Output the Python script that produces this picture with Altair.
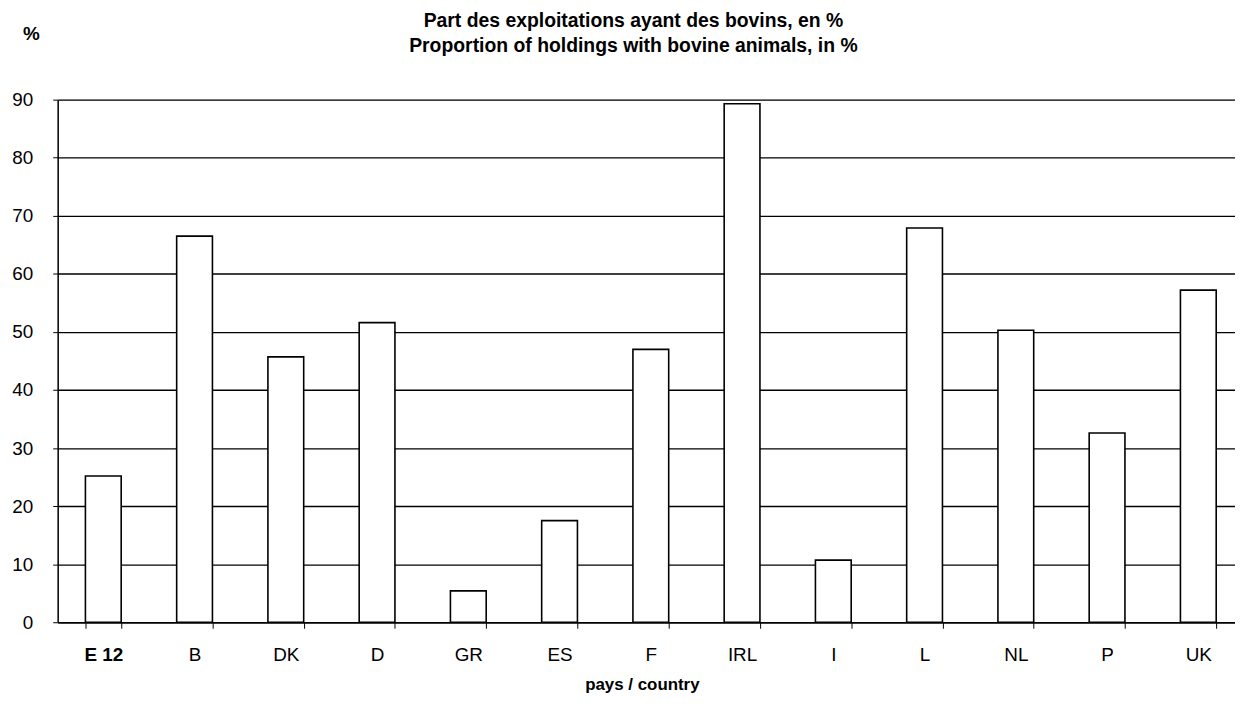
import altair as alt
import pandas as pd

countries = ["E 12", "B", "DK", "D", "GR", "ES", "F", "IRL", "I", "L", "NL", "P", "UK"]
shares = [25.2, 66.5, 45.7, 51.6, 5.4, 17.5, 47.0, 89.3, 10.7, 67.9, 50.3, 32.6, 57.2]
y_ticks = [0, 10, 20, 30, 40, 50, 60, 70, 80, 90]
title_lines = ["Part des exploitations ayant des bovins, en %",
               "Proportion of holdings with bovine animals, in %"]

df = pd.DataFrame({"country": countries, "share": shares})

FONT = "Liberation Sans"

bars = alt.Chart(df).mark_bar(
    fill="white", stroke="black", strokeWidth=1.6
).encode(
    x=alt.X("country:N", sort=countries,
            scale=alt.Scale(range=[0, 1194], paddingInner=0.608, paddingOuter=0.304),
            axis=alt.Axis(
                title="pays / country", titleFont=FONT, titleFontSize=17,
                titleFontWeight="bold", titleColor="black",
                titleY=55, titleBaseline="top", titleX=588, titleAnchor="start", titleAlign="center",
                labelFont=FONT, labelFontSize=19, labelColor="black", labelAngle=0,
                labelPadding=18, tickSize=6, tickColor="black", tickWidth=1,
                tickBand="extent", domainColor="black", domainWidth=1.5, grid=False,
                labelFontWeight={"condition": {"test": "datum.value == 'E 12'", "value": "bold"},
                                 "value": "normal"},
            )),
    y=alt.Y("share:Q",
            scale=alt.Scale(domain=[0, 90], nice=False),
            axis=alt.Axis(
                values=y_ticks, title="%", titleAngle=0, titleX=-27, titleY=-67,
                titleAlign="center", titleBaseline="middle", titleFont=FONT,
                titleFontSize=19, titleFontWeight="bold", titleColor="black",
                labelFont=FONT, labelFontSize=19, labelColor="black", labelPadding=20,
                tickSize=5, tickColor="black", domainColor="black", domainWidth=1.5,
                gridColor="black", gridWidth=1.3, gridOpacity=1,
            )),
)

chart = bars.properties(
    width=1185, height=526,
    padding={"left": 50, "top": 90, "right": 0, "bottom": 75},
    autosize=alt.AutoSizeParams(type="none"),
    title=alt.TitleParams(
        text=title_lines, font=FONT, fontSize=19.5, fontWeight="bold", color="black",
        anchor="middle", frame="group", dx=-13, offset=40, dy=73, lineHeight=26,
    ),
).configure_view(stroke=None).configure(background="white")

chart.save("out.html", embed_options={"renderer": "svg", "actions": False})
